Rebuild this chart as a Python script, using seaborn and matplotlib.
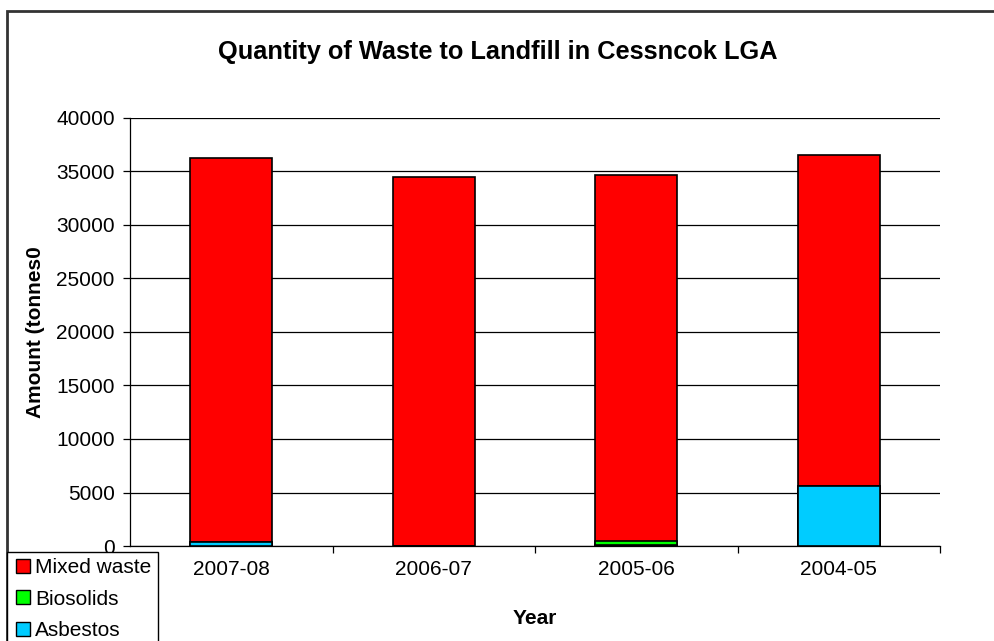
import matplotlib
matplotlib.use("Agg")
import matplotlib.pyplot as plt
import matplotlib.patches as mpatches
from matplotlib.lines import Line2D
import pandas as pd
import seaborn as sns

years = ["2007-08", "2006-07", "2005-06", "2004-05"]
asbestos = [350, 0, 60, 5600]
biosolids = [0, 30, 440, 0]
mixed_waste = [35950, 34470, 34170, 30900]

series_names = ["Mixed waste", "Biosolids", "Asbestos"]
series_colors = ["#ff0000", "#00ff00", "#00ccff"]

df = pd.DataFrame({"Year": years, "Asbestos": asbestos,
                   "Biosolids": biosolids, "Mixed waste": mixed_waste})
df["lvl_asb"] = df["Asbestos"]
df["lvl_bio"] = df["lvl_asb"] + df["Biosolids"]
df["lvl_mix"] = df["lvl_bio"] + df["Mixed waste"]

sns.set_theme(style="white")
plt.rcParams["font.family"] = ["Liberation Sans", "DejaVu Sans"]
plt.rcParams.update({"text.color": "black", "axes.labelcolor": "black",
                     "xtick.color": "black", "ytick.color": "black"})

fig = plt.figure(figsize=(9.95, 6.41), dpi=100)
ax = fig.add_axes([130 / 995, 1 - 546 / 641, 810 / 995, 428 / 641])

# draw the stacked bars as layered cumulative levels
for col, color in zip(["lvl_mix", "lvl_bio", "lvl_asb"], series_colors):
    sns.barplot(data=df, x="Year", y=col, color=color, width=0.405,
                edgecolor="black", linewidth=1.2, saturation=1, ax=ax,
                zorder=3)

ax.set_ylim(0, 40000)
ax.set_yticks(range(0, 40001, 5000))
ax.set_xlim(-0.5, 3.5)
ax.grid(axis="y", color="black", linewidth=0.9, zorder=0)
ax.set_axisbelow(True)
for s in ["top", "right"]:
    ax.spines[s].set_visible(False)
for s in ["left", "bottom"]:
    ax.spines[s].set_color("black")
    ax.spines[s].set_linewidth(0.9)

ax.set_xticks([0, 1, 2, 3])
ax.set_xticklabels(years)
ax.set_xticks([0.5, 1.5, 2.5, 3.5], minor=True)
ax.tick_params(axis="x", which="major", length=0, labelsize=15, pad=10)
ax.tick_params(axis="x", which="minor", length=5, color="black", width=0.9,
               direction="out", bottom=True)
ax.tick_params(axis="y", length=5, color="black", width=0.9, left=True,
               labelsize=15, pad=6)
ax.set_xlabel("Year", fontsize=15, fontweight="bold", labelpad=22)
ax.set_ylabel("Amount (tonnes0", fontsize=15, fontweight="bold", labelpad=8)

fig.text(498 / 995, 1 - 52 / 641,
         "Quantity of Waste to Landfill in Cessncok LGA",
         ha="center", va="center", fontsize=18.3, fontweight="bold")

# outer chart border
fig.patches.append(mpatches.Rectangle((7 / 995, -0.1), 1.1, 1 - 11 / 641 + 0.1,
                                      transform=fig.transFigure, fill=False,
                                      edgecolor="#333333", linewidth=2))

handles = [Line2D([], [], marker="s", linestyle="none", markersize=10,
                  markerfacecolor=c, markeredgecolor="black",
                  markeredgewidth=1) for c in series_colors]
leg = fig.legend(handles, series_names, loc="upper left",
                 bbox_to_anchor=(7 / 995, 1 - 552 / 641), fontsize=15,
                 frameon=True, fancybox=False, framealpha=1, borderpad=0.3,
                 handletextpad=0.15, labelspacing=0.6, handlelength=0.9,
                 borderaxespad=0)
leg.get_frame().set_edgecolor("black")
leg.get_frame().set_linewidth(1)

fig.savefig("out.png", dpi=100)
